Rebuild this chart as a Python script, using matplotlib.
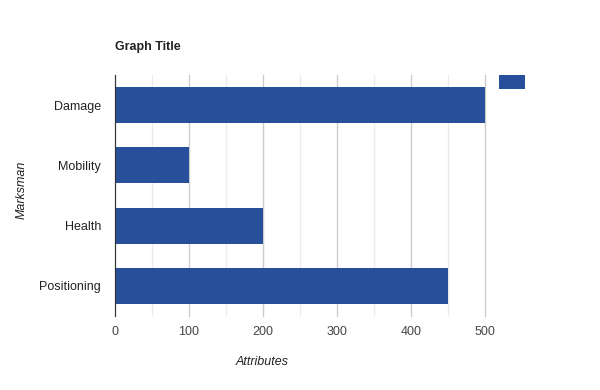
import matplotlib
matplotlib.use("Agg")
import matplotlib.pyplot as plt
from matplotlib.ticker import MultipleLocator

plt.rcParams["font.family"] = ["Liberation Sans", "DejaVu Sans"]

categories = ["Damage", "Mobility", "Health", "Positioning"]
values = [500, 100, 200, 450]
bar_color = "#284f99"

fig = plt.figure(figsize=(6, 3.9), dpi=100)
ax = fig.add_axes([115/600, 1 - 316/390, 370/600, 241/390])

y = list(range(len(categories)))[::-1]
bars = ax.barh(y, values, height=0.6, color=bar_color, zorder=3)

ax.set_xlim(0, 500)
ax.set_ylim(-0.5, len(categories) - 0.5)
ax.set_yticks(y)
ax.set_yticklabels(categories)
ax.xaxis.set_major_locator(MultipleLocator(100))
ax.xaxis.set_minor_locator(MultipleLocator(50))
ax.grid(axis="x", which="major", color="#cccccc", lw=1, zorder=0)
ax.grid(axis="x", which="minor", color="#ebebeb", lw=1, zorder=0)
for gl in ax.get_xgridlines():
    gl.set_clip_on(False)
ax.tick_params(axis="both", which="both", length=0, labelsize=9, colors="#444444")
ax.tick_params(axis="x", pad=7)
ax.tick_params(axis="y", pad=10, labelcolor="#222222")
for s in ["top", "right", "bottom"]:
    ax.spines[s].set_visible(False)
ax.spines["left"].set_color("#333333")
ax.spines["left"].set_zorder(4)

fig.text(115/600, 1 - 47/390, "Graph Title", fontsize=9, fontweight="bold",
         color="#222222", ha="left", va="center")
fig.text(262/600, 1 - 362/390, "Attributes", fontsize=9, style="italic",
         color="#222222", ha="center", va="center")
fig.text(22/600, 1 - 190/390, "Marksman", fontsize=9, style="italic",
         color="#222222", ha="center", va="center", rotation=90)

fig.legend([bars], [""], loc="upper left", bbox_to_anchor=(499/600, 1 - 75/390),
           frameon=False, borderpad=0, borderaxespad=0, fontsize=9,
           handlelength=2.1, handleheight=1.3, handletextpad=0)

fig.savefig("out.png", dpi=100)
